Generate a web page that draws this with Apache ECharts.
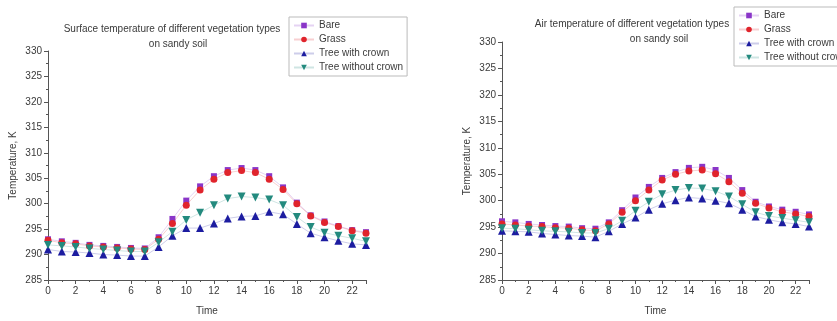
<!DOCTYPE html>
<html>
<head>
<meta charset="utf-8">
<title>Temperature of vegetation types on sandy soil</title>
<script src="https://cdn.jsdelivr.net/npm/echarts@6/dist/echarts.min.js"></script>
<style>
  html, body { margin: 0; padding: 0; background: #fff; }
  #chart { width: 837px; height: 321px; }
</style>
</head>
<body>
<div id="chart"></div>
<script>
// Hour of day
const hours = [0,1,2,3,4,5,6,7,8,9,10,11,12,13,14,15,16,17,18,19,20,21,22,23];

// Surface temperature, K
const surfaceBare = [293.0,292.6,292.3,291.9,291.7,291.5,291.3,291.2,293.4,297.0,300.6,303.4,305.4,306.6,307.0,306.6,305.4,303.2,300.2,297.7,296.5,295.6,294.8,294.4];
const surfaceGrass = [292.8,292.3,292.1,291.7,291.5,291.3,291.1,291.0,293.0,296.1,299.7,302.7,304.8,306.1,306.5,306.1,304.8,302.8,300.0,297.6,296.3,295.5,294.7,294.2];
const surfaceTreeCrown = [291.0,290.6,290.5,290.3,290.0,289.9,289.7,289.7,291.5,293.7,295.2,295.2,296.1,297.1,297.5,297.6,298.4,297.9,296.0,294.2,293.4,292.7,292.1,291.9];
const surfaceTreeNoCrown = [291.9,291.7,291.5,291.2,291.0,290.8,290.6,290.6,292.4,294.5,296.8,298.2,299.7,301.0,301.4,301.2,300.8,299.7,297.4,295.4,294.3,293.7,293.2,292.6];

// Air temperature, K
const airBare = [296.1,295.9,295.6,295.4,295.2,295.1,294.8,294.7,295.9,298.2,300.6,302.6,304.3,305.4,306.2,306.4,305.8,304.3,302.0,299.8,298.9,298.3,297.9,297.4];
const airGrass = [295.6,295.4,295.2,295.1,294.9,294.8,294.5,294.3,295.6,297.8,300.0,302.0,303.9,305.0,305.6,305.8,305.1,303.6,301.4,299.5,298.6,297.9,297.5,297.0];
const airTreeCrown = [294.3,294.2,294.1,293.8,293.6,293.4,293.3,293.1,294.2,295.6,296.8,298.3,299.4,300.1,300.6,300.4,300.0,299.5,298.3,297.0,296.4,295.9,295.6,295.1];
const airTreeNoCrown = [294.8,294.7,294.5,294.3,294.2,294.1,293.9,293.9,294.7,296.2,298.1,299.8,301.2,302.0,302.4,302.3,301.8,300.8,299.3,297.8,297.1,296.7,296.3,295.9];

const seriesNames = ['Bare', 'Grass', 'Tree with crown', 'Tree without crown'];
const yTicks = { min: 285, max: 330, step: 5 };

const FONT = 'Liberation Sans, Arial, sans-serif';
const TEXT = '#3a3a3a';
const AXIS = '#555';

const styles = [
  { color: '#8a35c8', symbol: 'rect', size: 6 },
  { color: '#e0242c', symbol: 'circle', size: 7 },
  { color: '#1c1ca0', symbol: 'triangle', size: 8 },
  { color: '#238a7e', symbol: 'path://M0,0 L10,0 L5,9 Z', size: 8 }
];

function pairs(values) {
  return hours.map((h, i) => [h, values[i]]);
}

function makeSeries(sets, axisIndex) {
  return sets.map((values, i) => ({
    name: seriesNames[i],
    type: 'line',
    xAxisIndex: axisIndex,
    yAxisIndex: axisIndex,
    data: pairs(values),
    symbol: styles[i].symbol,
    symbolSize: styles[i].size,
    showAllSymbol: true,
    itemStyle: { color: styles[i].color },
    lineStyle: { color: styles[i].color, width: 1, opacity: 0.22 },
    emphasis: { disabled: true },
    animation: false,
    z: 2 + i
  }));
}

function xAxis(gridIndex) {
  return {
    type: 'value', gridIndex, min: 0, max: 23, interval: 2,
    name: 'Time', nameLocation: 'middle', nameGap: 26,
    nameTextStyle: { fontFamily: FONT, fontSize: 10, color: TEXT },
    axisLine: { lineStyle: { color: AXIS, width: 1 } },
    axisTick: { length: 4, lineStyle: { color: AXIS } },
    minorTick: { show: true, splitNumber: 2, length: 2, lineStyle: { color: AXIS } },
    axisLabel: { fontFamily: FONT, fontSize: 10, color: TEXT, margin: 6, showMaxLabel: false },
    splitLine: { show: false }
  };
}

function yAxis(gridIndex) {
  return {
    type: 'value', gridIndex, min: yTicks.min, max: yTicks.max, interval: yTicks.step,
    name: 'Temperature, K', nameLocation: 'middle', nameGap: 30, nameRotate: 90,
    nameTextStyle: { fontFamily: FONT, fontSize: 10, color: TEXT },
    axisLine: { show: true, lineStyle: { color: AXIS, width: 1 } },
    axisTick: { show: true, length: 4, lineStyle: { color: AXIS } },
    minorTick: { show: true, splitNumber: 2, length: 2, lineStyle: { color: AXIS } },
    axisLabel: { fontFamily: FONT, fontSize: 10, color: TEXT, margin: 6 },
    splitLine: { show: false }
  };
}

function legend(left, top) {
  return {
    data: seriesNames,
    orient: 'vertical',
    left, top,
    itemWidth: 20, itemHeight: 7, itemGap: 3,
    padding: [3, 4, 3, 4],
    borderColor: '#bbb', borderWidth: 1, borderRadius: 0,
    backgroundColor: '#fff',
    textStyle: { fontFamily: FONT, fontSize: 10, lineHeight: 11, color: TEXT, padding: [0, 0, 0, 0] },
    selectedMode: false
  };
}

function titleLine(text, cx, top) {
  return {
    text, left: cx, top, textAlign: 'center',
    textStyle: { fontFamily: FONT, fontSize: 10, fontWeight: 'normal', color: TEXT }
  };
}

const chart = echarts.init(document.getElementById('chart'), null, { renderer: 'canvas' });
chart.setOption({
  backgroundColor: '#fff',
  animation: false,
  title: [
    titleLine('Surface temperature of different vegetation types', 167, 19),
    titleLine('on sandy soil', 173, 34),
    titleLine('Air temperature of different vegetation types', 627, 14),
    titleLine('on sandy soil', 654, 29)
  ],
  legend: [legend(289, 17), legend(734, 7)],
  grid: [
    { left: 48, right: 471, top: 51, bottom: 37 },
    { left: 502, right: 28, top: 42, bottom: 39 }
  ],
  xAxis: [xAxis(0), xAxis(1)],
  yAxis: [yAxis(0), yAxis(1)],
  series: [
    ...makeSeries([surfaceBare, surfaceGrass, surfaceTreeCrown, surfaceTreeNoCrown], 0),
    ...makeSeries([airBare, airGrass, airTreeCrown, airTreeNoCrown], 1)
  ]
});
</script>
</body>
</html>
